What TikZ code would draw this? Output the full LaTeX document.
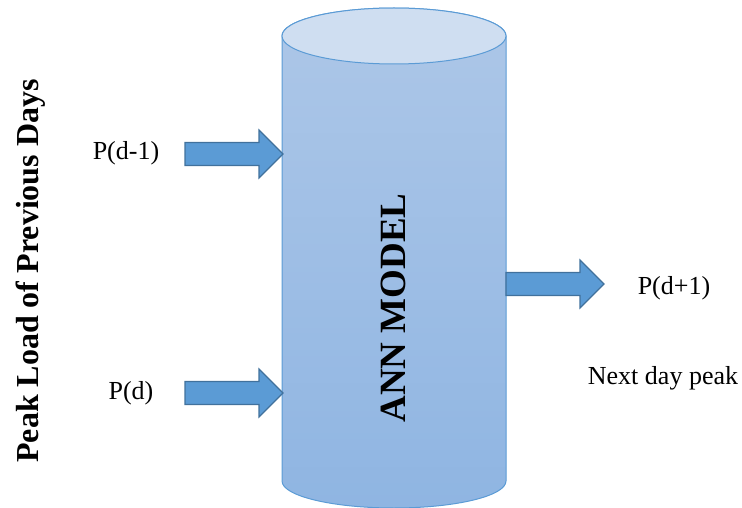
\documentclass[tikz,border=0pt]{standalone}
\usepackage{fontspec}
\setmainfont{Liberation Serif}
\definecolor{cylTop}{HTML}{CFDEF1}
\definecolor{cylUp}{HTML}{ADC7E8}
\definecolor{cylLow}{HTML}{8FB5E2}
\definecolor{cylLine}{HTML}{5B9BD5}
\definecolor{arrFill}{HTML}{5B9BD5}
\definecolor{arrLine}{HTML}{41719C}
\tikzset{
  blockarrow/.style={fill=arrFill, draw=arrLine, line width=1.2pt, line join=miter},
  lbl/.style={font=\fontsize{26}{30}\selectfont, inner sep=0pt}
}
\begin{document}
\begin{tikzpicture}[x=1pt,y=-1pt]
\useasboundingbox (0,0) rectangle (742,508);
% cylinder body
\shade[top color=cylUp, bottom color=cylLow, draw=cylLine, line width=1pt]
  (282,36) -- (282,481) arc[start angle=180, end angle=360, x radius=112, y radius=-27]
  -- (506,36) arc[start angle=0, end angle=180, x radius=112, y radius=-28] -- cycle;
\draw[fill=cylTop, draw=cylLine, line width=1pt] (394,36) ellipse[x radius=112, y radius=28];
\node[inner sep=0pt] (cyl) at (394,258) {};
% arrows
\coordinate (a1) at (185,154);
\coordinate (a2) at (185,393);
\coordinate (a3) at (506,284);
\foreach \c in {a1,a2,a3}{
  \draw[blockarrow] ([shift={(0,-11.5)}]\c) -- ++(74,0) -- ++(0,-12.5) -- ++(24,24) -- ++(-24,24) -- ++(0,-12.5) -- ++(-74,0) -- cycle;
}
% labels
\node[lbl] (pd1) at (126,153) {P(d-1)};
\node[lbl] (pd) at (131,393) {P(d)};
\node[lbl] (pdp) at (674,288) {P(d+1)};
\node[lbl] (next) at (663,378) {Next day peak};
\node[inner sep=0pt, rotate=90, font=\fontsize{37}{40}\selectfont\bfseries] (ann) at (393,308) {ANN MODEL};
\node[inner sep=0pt, rotate=90, font=\fontsize{32}{36}\selectfont\bfseries] (title) at (31,271) {Peak Load of Previous Days};
\end{tikzpicture}
\end{document}
